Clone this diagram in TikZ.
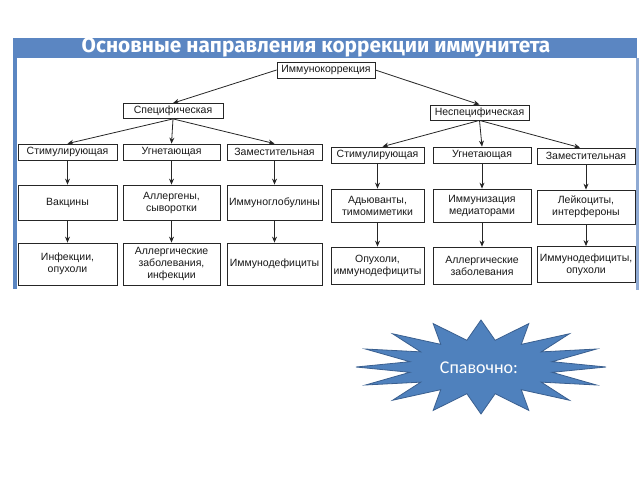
\documentclass[tikz,border=0pt]{standalone}
\usepackage{fontspec}
\setmainfont{Liberation Sans}
\newfontfamily\titlefont{Fira Sans}
\newfontfamily\starfont{Carlito}
\usetikzlibrary{arrows.meta}
\definecolor{framecol}{HTML}{5B86C2}
\definecolor{framelight}{HTML}{8FAAD3}
\definecolor{starfill}{HTML}{4F81BD}
\definecolor{starline}{HTML}{3A5F8F}
\tikzset{
  box/.style={draw=black!85, line width=0.8pt, fill=white, align=center,
    inner sep=1pt, text=black!90, font=\fontsize{10.5}{12}\selectfont},
  conn/.style={draw=black!85, line width=0.8pt, -{Stealth[length=6pt,width=5pt]}},
}
\begin{document}
\begin{tikzpicture}[x=1pt,y=-1pt]
\useasboundingbox (0,0) rectangle (640,480);
% frame
\fill[framecol] (13,38) rectangle (637,58);
\fill[framecol] (13,58) rectangle (16.5,289);
\fill[framelight] (635.5,58) rectangle (639,290);
\node[font=\titlefont\bfseries\fontsize{20.8}{22}\selectfont, text=white, inner sep=0pt] (title) at (316,47.5) {Основные направления коррекции иммунитета};
% level 0
\node[box, minimum width=98, minimum height=16] (root) at (326,70) {Иммунокоррекция};
% level 1
\node[box, minimum width=100, minimum height=15] (spec) at (173,111) {Специфическая};
\node[box, minimum width=99, minimum height=15] (nspec) at (479.5,112.5) {Неспецифическая};
% level 2
\node[box, minimum width=99, minimum height=16] (a1) at (67.5,152) {Стимулирующая};
\node[box, minimum width=97, minimum height=16] (a2) at (171.5,152) {Угнетающая};
\node[box, minimum width=95, minimum height=16] (a3) at (274.5,152) {Заместительная};
\node[box, minimum width=93, minimum height=16] (a4) at (377.5,155) {Стимулирующая};
\node[box, minimum width=98, minimum height=16] (a5) at (482,155) {Угнетающая};
\node[box, minimum width=98, minimum height=16] (a6) at (586,156) {Заместительная};
% level 3
\node[box, minimum width=99, minimum height=35] (b1) at (67.5,202.5) {Вакцины};
\node[box, minimum width=97, minimum height=35] (b2) at (171.5,202.5) {Аллергены,\\сыворотки};
\node[box, minimum width=95, minimum height=35] (b3) at (274.5,202.5) {Иммуноглобулины};
\node[box, minimum width=93, minimum height=33] (b4) at (377.5,205.5) {Адьюванты,\\тимомиметики};
\node[box, minimum width=98, minimum height=33] (b5) at (482,205.5) {Иммунизация\\медиаторами};
\node[box, minimum width=98, minimum height=34] (b6) at (586,207) {Лейкоциты,\\интерфероны};
% level 4
\node[box, minimum width=99, minimum height=42] (c1) at (67.5,264) {Инфекции,\\опухоли};
\node[box, minimum width=97, minimum height=42] (c2) at (171.5,264) {Аллергические\\заболевания,\\инфекции};
\node[box, minimum width=95, minimum height=42] (c3) at (274.5,264) {Иммунодефициты};
\node[box, minimum width=93, minimum height=37] (c4) at (377.5,265.5) {Опухоли,\\иммунодефициты};
\node[box, minimum width=98, minimum height=37] (c5) at (482,265.5) {Аллергические\\заболевания};
\node[box, minimum width=98, minimum height=36] (c6) at (586,264.5) {Иммунодефициты,\\опухоли};
% connectors
\draw[conn] (root.west) -- (spec.north);
\draw[conn] (root.east) -- (nspec.north);
\draw[conn] (spec.south) -- (a1.north);
\draw[conn] (spec.south) -- (a2.north);
\draw[conn] (spec.south) -- (a3.north);
\draw[conn] (nspec.south) -- ([xshift=5pt]a4.north);
\draw[conn] (nspec.south) -- (a5.north);
\draw[conn] (nspec.south) -- ([xshift=-6pt]a6.north);
\foreach \i in {1,...,6}{
  \draw[conn] (a\i.south) -- (b\i.north);
  \draw[conn] (b\i.south) -- (c\i.north);
}
% starburst
\begin{scope}[shift={(481,367)}]
\filldraw[fill=starfill, draw=starline, line width=0.8pt]
  (90:125pt and 47pt)
  \foreach \i in {1,...,31}{
    -- ({90+\i*11.25}:{125pt*(1-0.42*mod(\i,2))} and {47pt*(1-0.42*mod(\i,2))})
  } -- cycle;
\end{scope}
\node[font=\starfont\fontsize{18}{20}\selectfont, text=white] (note) at (479,368) {Спавочно:};
\end{tikzpicture}
\end{document}
